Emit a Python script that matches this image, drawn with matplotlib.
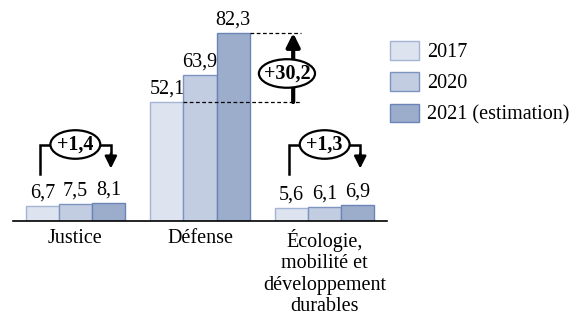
import numpy as np
import matplotlib
matplotlib.use("Agg")
import matplotlib.pyplot as plt
from matplotlib.patches import Ellipse

plt.rcParams["font.family"] = ["Liberation Serif", "DejaVu Serif"]

# Data
categories = ["Justice", "Défense", "Écologie,\nmobilité et\ndéveloppement\ndurables"]
years = ["2017", "2020", "2021 (estimation)"]
v2017 = [6.7, 52.1, 5.6]
v2020 = [7.5, 63.9, 6.1]
v2021 = [8.1, 82.3, 6.9]
diff_labels = ["+1,4", "+30,2", "+1,3"]

fill_colors = ["#dee4ef", "#c3cde1", "#9cadcc"]
edge_colors = ["#a3b5d4", "#7d94c0", "#6a84b5"]

fig = plt.figure(figsize=(5.85, 3.29), dpi=100)
ax = fig.add_axes([13 / 585, 1 - 221 / 329, 374 / 585, 211 / 329])

x = np.arange(len(categories))
w = 0.265
series = [v2017, v2020, v2021]
for i, vals in enumerate(series):
    pos = x + (i - 1) * w
    ax.bar(pos, vals, w, color=fill_colors[i], edgecolor=edge_colors[i],
           linewidth=1, label=years[i])
    for p, v in zip(pos, vals):
        ax.text(p, v + 1.5, f"{v:.1f}".replace(".", ","), ha="center", va="bottom",
                fontsize=14.5)

ax.set_xlim(-0.5, 2.5)
ax.set_ylim(0, 92.4)
for s in ["top", "right", "left"]:
    ax.spines[s].set_visible(False)
ax.spines["bottom"].set_linewidth(1.2)
ax.set_yticks([])
ax.set_xticks(x)
ax.set_xticklabels(categories, fontsize=14.5, linespacing=1.15)
ax.tick_params(axis="x", length=0, pad=6)

# brackets for small groups
for gi in [0, 2]:
    left = x[gi] - w - 0.02
    right = x[gi] + w + 0.02
    ytop = 33.5
    ax.plot([left, left, right, right], [20.5, ytop, ytop, 29], color="black",
            lw=1.8, solid_joinstyle="miter", clip_on=False)
    ax.annotate("", xy=(right, 23), xytext=(right, 29.5),
                arrowprops=dict(arrowstyle="-|>", color="black", lw=1.8,
                                mutation_scale=18, shrinkA=0, shrinkB=0))
    ax.add_patch(Ellipse((x[gi], ytop), 0.4, 12.5, facecolor="white",
                         edgecolor="black", lw=1.6, zorder=5))
    lbl = diff_labels[gi]
    ax.text(x[gi], ytop, lbl, ha="center", va="center", fontsize=14.5,
            fontweight="bold", zorder=6)

# Défense difference
x_right = x[1] + 1.5 * w
ax.plot([x[1] - 0.5 * w, x_right + 0.41], [v2017[1], v2017[1]], ls=(0, (3, 2)),
        color="black", lw=0.9)
ax.plot([x_right, x_right + 0.41], [v2021[1], v2021[1]], ls=(0, (3, 2)),
        color="black", lw=0.9)
xa = x_right + 0.35
ax.annotate("", xy=(xa, v2021[1]), xytext=(xa, v2017[1]),
            arrowprops=dict(arrowstyle="-|>", color="black", lw=3,
                            mutation_scale=20, shrinkA=0, shrinkB=0))
ye = (v2017[1] + v2021[1]) / 2 - 2.6
ax.add_patch(Ellipse((xa - 0.05, ye), 0.45, 12.5, facecolor="white",
                     edgecolor="black", lw=1.6, zorder=5))
ax.text(xa - 0.05, ye, diff_labels[1], ha="center", va="center", fontsize=14.5,
        fontweight="bold", zorder=6)

ax.legend(loc="upper left", bbox_to_anchor=(390 / 585, 1 - 41 / 329),
          bbox_transform=fig.transFigure, frameon=False, fontsize=14.5,
          handlelength=1.45, handleheight=1.05, labelspacing=0.5,
          handletextpad=0.4, borderaxespad=0, borderpad=0)

fig.savefig("out.png", dpi=100)
